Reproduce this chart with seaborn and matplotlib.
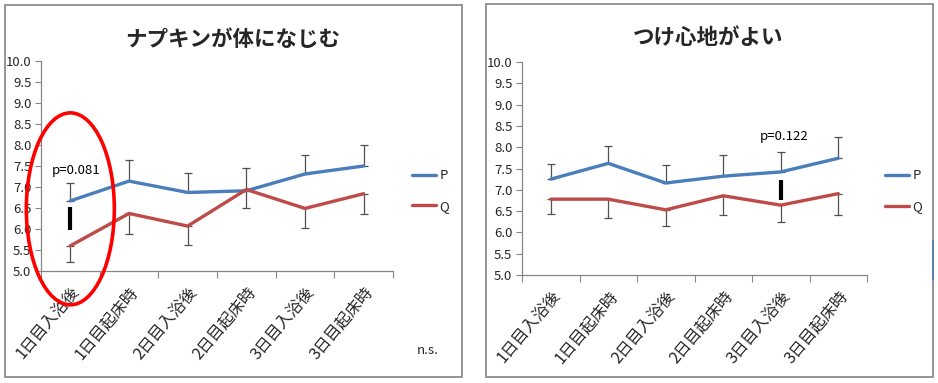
import matplotlib
matplotlib.use("Agg")
import matplotlib.pyplot as plt
import matplotlib.transforms as mtransforms
import seaborn as sns
import pandas as pd
import numpy as np
from matplotlib.patches import Ellipse, Rectangle
from matplotlib.lines import Line2D

# ---------------- data ----------------
categories = ["1日目入浴後", "1日目起床時", "2日目入浴後", "2日目起床時", "3日目入浴後", "3日目起床時"]
series_names = ["P", "Q"]

left_title = "ナプキンが体になじむ"
left_P = [6.67, 7.14, 6.87, 6.91, 7.31, 7.50]
left_P_upper = [7.09, 7.64, 7.34, 7.46, 7.76, 8.00]
left_Q = [5.60, 6.37, 6.07, 6.94, 6.49, 6.84]
left_Q_lower = [5.21, 5.87, 5.63, 6.49, 6.03, 6.35]

right_title = "つけ心地がよい"
right_P = [7.25, 7.62, 7.16, 7.32, 7.42, 7.74]
right_P_upper = [7.60, 8.03, 7.59, 7.81, 7.89, 8.23]
right_Q = [6.78, 6.78, 6.53, 6.86, 6.64, 6.91]
right_Q_lower = [6.44, 6.34, 6.14, 6.42, 6.25, 6.42]

yticks = [5.0, 5.5, 6.0, 6.5, 7.0, 7.5, 8.0, 8.5, 9.0, 9.5, 10.0]
left_p_text = "p=0.081"
right_p_text = "p=0.122"
ns_text = "n.s."

colors = {"P": "#4A7EBB", "Q": "#BE4B48"}

# ---------------- style ----------------
sns.set_theme(style="white")
plt.rcParams["font.family"] = ["Noto Sans CJK JP", "DejaVu Sans"]
plt.rcParams["axes.unicode_minus"] = False

W, H = 938, 383
fig = plt.figure(figsize=(W / 100, H / 100), dpi=100)
fig.patch.set_facecolor("white")


def px_axes(l, t, r, b):
    return fig.add_axes([l / W, 1 - b / H, (r - l) / W, (b - t) / H])


def draw_panel(ax, P, P_up, Q, Q_lo, legend_anchor):
    x = np.arange(len(categories))
    df = pd.DataFrame({
        "x": np.concatenate([x, x]),
        "value": P + Q,
        "series": ["P"] * len(P) + ["Q"] * len(Q),
    })
    # error bars (P: plus, Q: minus)
    ax.errorbar(x, P, yerr=[np.zeros(len(P)), np.array(P_up) - np.array(P)],
                fmt="none", ecolor="#505050", elinewidth=0.9, capsize=3, capthick=0.9, zorder=1)
    ax.errorbar(x, Q, yerr=[np.array(Q) - np.array(Q_lo), np.zeros(len(Q))],
                fmt="none", ecolor="#505050", elinewidth=0.9, capsize=3, capthick=0.9, zorder=1)
    sns.lineplot(data=df, x="x", y="value", hue="series", palette=colors,
                 linewidth=2.4, ax=ax, legend=False, zorder=3)
    ax.set_xlim(-0.5, len(categories) - 0.5)
    ax.set_ylim(5.0, 10.0)
    ax.set_yticks(yticks)
    ax.set_yticklabels([f"{v:.1f}" for v in yticks], fontsize=9.5)
    # major ticks at category boundaries, labels at centres
    ax.set_xticks(np.arange(-0.5, len(categories), 1.0))
    ax.set_xticklabels([])
    ax.set_xticks(x, minor=True)
    ax.set_xticklabels(categories, minor=True, rotation=50, ha="right",
                       rotation_mode="anchor", fontsize=11.5)
    offset = mtransforms.ScaledTranslation(6 / 100, 0, fig.dpi_scale_trans)
    for lab in ax.get_xticklabels(minor=True):
        lab.set_transform(lab.get_transform() + offset)
    ax.tick_params(axis="x", which="minor", length=0, pad=9)
    ax.tick_params(axis="x", which="major", length=5, width=0.8, color="#868686", direction="out", bottom=True)
    ax.tick_params(axis="y", length=4, width=0.8, color="#868686", direction="out", left=True, pad=3)
    ax.set_xlabel("")
    ax.set_ylabel("")
    for s in ["top", "right"]:
        ax.spines[s].set_visible(False)
    for s in ["left", "bottom"]:
        ax.spines[s].set_color("#868686")
        ax.spines[s].set_linewidth(0.9)
    ax.set_facecolor("white")
    handles = [Line2D([0], [0], color=colors[n], lw=2.4) for n in series_names]
    ax.legend(handles, series_names, loc="center left", bbox_to_anchor=legend_anchor,
              frameon=False, fontsize=9.5, handlelength=1.8, handletextpad=0.25,
              labelspacing=1.35, borderpad=0, borderaxespad=0)


# left panel
axL = px_axes(41, 61, 393, 271)
draw_panel(axL, left_P, left_P_upper, left_Q, left_Q_lower, (1.055, 0.38))
axL.text(0.1, 7.40, left_p_text, ha="center", va="center", fontsize=9.5, color="black")
axL.plot([0, 0], [5.98, 6.52], color="black", lw=3, solid_capstyle="butt", zorder=4)
axL.add_patch(Ellipse((0, 6.48), 1.5, 4.57, fill=False, edgecolor="#FF0000", lw=2.6,
                      clip_on=False, zorder=5))

# right panel
axR = px_axes(522, 62, 867, 275)
draw_panel(axR, right_P, right_P_upper, right_Q, right_Q_lower, (1.053, 0.393))
axR.text(4.05, 8.24, right_p_text, ha="center", va="center", fontsize=9.5, color="black")
axR.plot([4, 4], [6.76, 7.23], color="black", lw=3, solid_capstyle="butt", zorder=4)

# titles and notes
fig.text(233 / W, 1 - 40 / H, left_title, ha="center", va="center", fontsize=15.5, fontweight="bold")
fig.text(708 / W, 1 - 37 / H, right_title, ha="center", va="center", fontsize=15.5, fontweight="bold")
fig.text(428 / W, 1 - 350 / H, ns_text, ha="center", va="center", fontsize=9.5)

# panel frames
fig.patches.append(Rectangle((5 / W, 1 - 377 / H), (462 - 5) / W, (377 - 5) / H,
                             transform=fig.transFigure, fill=False, edgecolor="#8C8C8C", lw=1.3))
fig.patches.append(Rectangle((486 / W, 1 - 377 / H), (933 - 486) / W, (377 - 4) / H,
                             transform=fig.transFigure, fill=False, edgecolor="#8C8C8C", lw=1.3))
fig.lines.append(Line2D([933 / W, 933 / W], [1 - 240 / H, 1 - 280 / H], transform=fig.transFigure,
                        color="#4A7EBB", lw=1.2))

fig.savefig("out.png", dpi=100, facecolor="white")
